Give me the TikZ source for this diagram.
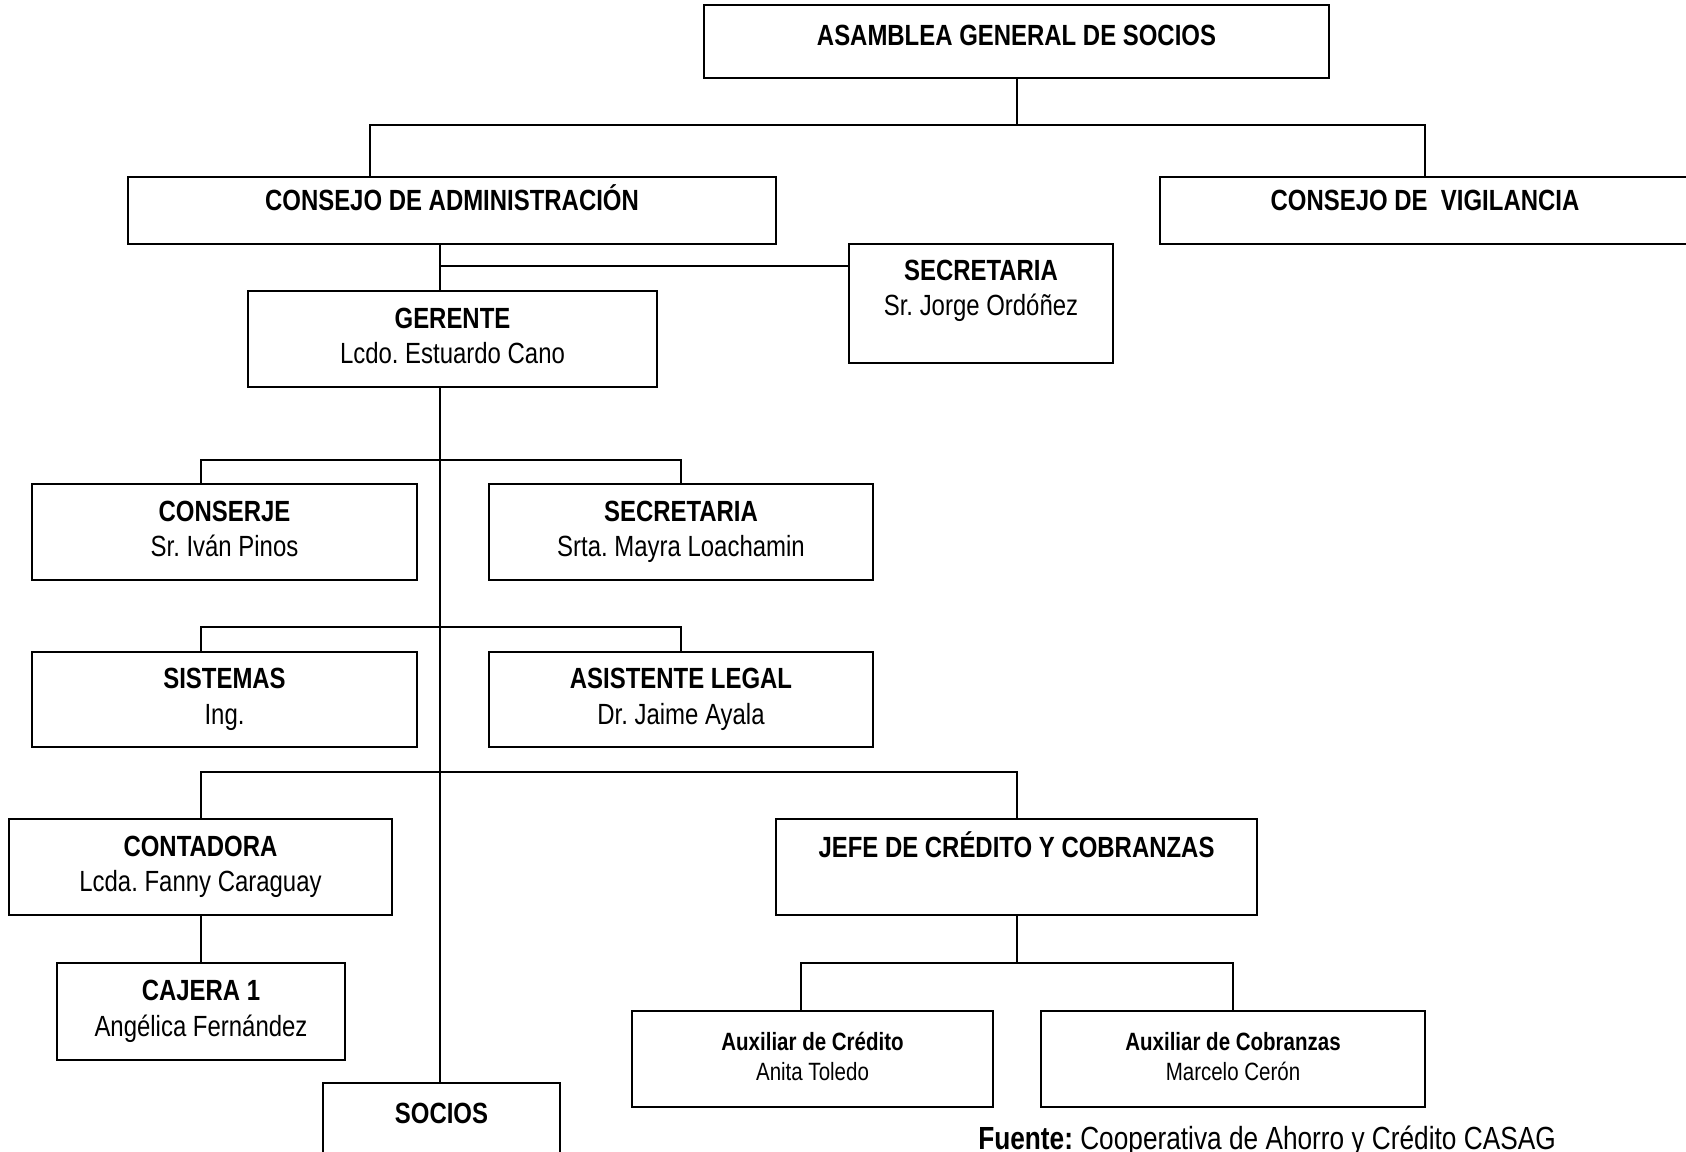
\documentclass[tikz,border=0pt]{standalone}
\usepackage{fontspec}
\setmainfont{Liberation Sans}[FakeStretch=0.82]
\frenchspacing
\tikzset{
  box/.style={draw, line width=1pt, align=center, inner sep=0pt,
    font=\fontsize{14.6}{17.75}\selectfont},
  auxbox/.style={box, font=\fontsize{12.5}{15}\selectfont},
  link/.style={line width=1pt}
}
\newcommand{\puesto}[2]{\textbf{#1}\strut\\#2\strut}
\begin{document}
\begin{tikzpicture}[x=0.5pt, y=-0.5pt]
    \useasboundingbox (0,0) rectangle (1686,1151);

    \node[box, minimum width=312.5pt, minimum height=36.5pt, text height=11pt, text depth=6.5pt] (asamblea) at (1016.5,41.5) {\textbf{ASAMBLEA GENERAL DE SOCIOS}};
    \node[box, minimum width=324pt, minimum height=33.5pt, text height=11pt, text depth=11pt] (cadmin) at (452,210.5) {\textbf{CONSEJO DE ADMINISTRACIÓN}};
    \node[box, minimum width=265pt, minimum height=33.5pt, text height=11pt, text depth=11pt] (cvig) at (1425,210.5) {\textbf{CONSEJO DE\ \ VIGILANCIA}};
    \node[box, minimum width=132pt, minimum height=59.5pt] (secj) at (981,303.5) {\puesto{SECRETARIA}{Sr. Jorge Ordóñez}\\\mbox{}};
    \node[box, minimum width=204.5pt, minimum height=48pt] (gerente) at (452.5,339) {\puesto{GERENTE}{Lcdo. Estuardo Cano}};

    \node[box, minimum width=192.5pt, minimum height=48pt] (conserje) at (224.5,532) {\puesto{CONSERJE}{Sr. Iván Pinos}};
    \node[box, minimum width=192pt, minimum height=48pt] (secm) at (681,532) {\puesto{SECRETARIA}{Srta. Mayra Loachamin}};
    \node[box, minimum width=192.5pt, minimum height=47.5pt] (sistemas) at (224.5,699.5) {\puesto{SISTEMAS}{Ing.}};
    \node[box, minimum width=192pt, minimum height=47.5pt] (legal) at (681,699.5) {\puesto{ASISTENTE LEGAL}{Dr. Jaime Ayala}};

    \node[box, minimum width=191.5pt, minimum height=48pt] (contadora) at (200.5,867) {\puesto{CONTADORA}{Lcda. Fanny Caraguay}};
    \node[box, minimum width=240.5pt, minimum height=48pt, text height=11pt, text depth=20.5pt] (jefe) at (1016.5,867) {\textbf{JEFE DE CRÉDITO Y COBRANZAS}};
    \node[box, minimum width=144pt, minimum height=48.5pt] (cajera) at (201,1011.5) {\puesto{CAJERA 1}{Angélica Fernández}};
    \node[auxbox, minimum width=180.5pt, minimum height=48pt] (auxcred) at (812.5,1059) {\puesto{Auxiliar de Crédito}{Anita Toledo}};
    \node[auxbox, minimum width=192pt, minimum height=48pt] (auxcob) at (1233,1059) {\puesto{Auxiliar de Cobranzas}{Marcelo Cerón}};
    \node[box, minimum width=118.5pt, minimum height=48pt, text height=11pt, text depth=18.5pt] (socios) at (441.5,1131) {\textbf{SOCIOS}};

    \node[font=\fontsize{16}{19}\selectfont, inner sep=0pt] (fuente) at (1267,1141) {\textbf{Fuente:} Cooperativa de Ahorro y Crédito CASAG};

    % lineas
    \coordinate (dA) at (370,125);
    \coordinate (dB) at (1425,125);
    \coordinate (t) at (440,266);
    \coordinate (b1) at (201,460);
    \coordinate (b2) at (201,627);
    \coordinate (b3) at (201,772);
    \coordinate (b4) at (801,963);

    \draw[link] (asamblea.south) -- (asamblea.south |- dA);
    \draw[link] (cadmin.north -| dA) -- (dA) -- (dB) -- (cvig.north);
    \draw[link] (cadmin.south -| t) -- (gerente.north -| t);
    \draw[link] (t) -- (secj.west |- t);
    \draw[link] (gerente.south -| t) -- (socios.north -| t);
    \draw[link] (conserje.north -| b1) -- (b1) -- (secm.north |- b1) -- (secm.north);
    \draw[link] (sistemas.north -| b2) -- (b2) -- (legal.north |- b2) -- (legal.north);
    \draw[link] (contadora.north -| b3) -- (b3) -- (jefe.north |- b3) -- (jefe.north);
    \draw[link] (contadora.south -| b3) -- (cajera.north -| b3);
    \draw[link] (jefe.south) -- (jefe.south |- b4);
    \draw[link] (auxcred.north -| b4) -- (b4) -- (auxcob.north |- b4) -- (auxcob.north);
\end{tikzpicture}
\end{document}
